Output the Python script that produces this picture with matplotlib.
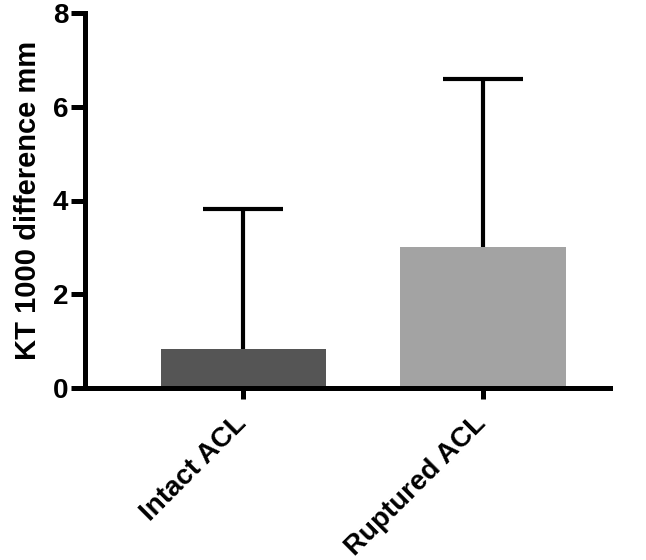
import matplotlib
matplotlib.use("Agg")
import matplotlib.pyplot as plt
import matplotlib.transforms as mtransforms

# Data
groups = ["Intact ACL", "Ruptured ACL"]
means = [0.83, 3.0]
sd_upper = [2.99, 3.6]
bar_colors = ["#555555", "#a3a3a3"]

plt.rcParams["font.family"] = ["Liberation Sans", "DejaVu Sans"]
plt.rcParams["font.weight"] = "bold"

fig = plt.figure(figsize=(6.46, 5.6), dpi=100)
ax = fig.add_axes([85 / 646, 172 / 560, 525 / 646, 375 / 560])

x = list(range(len(groups)))
ax.bar(x, means, width=0.69, color=bar_colors, zorder=2)
eb = ax.errorbar(x, means, yerr=[[0] * len(means), sd_upper], fmt="none",
                 ecolor="black", elinewidth=3, capsize=29, capthick=3, zorder=1)
# only the upper cap is drawn in the original
eb[1][0].set_visible(False)

ax.set_xlim(-0.66, 1.53)
ax.set_ylim(0, 8)
ax.set_yticks([0, 2, 4, 6, 8])
ax.set_xticks(x)
ax.set_xticklabels(groups, rotation=45, ha="right", rotation_mode="anchor")

for side in ["top", "right"]:
    ax.spines[side].set_visible(False)
for side in ["left", "bottom"]:
    ax.spines[side].set_linewidth(3.6)

ax.tick_params(axis="y", length=10, width=3.6, labelsize=20, pad=2)
ax.tick_params(axis="x", length=8, width=3.6, labelsize=20, pad=8)
shift = mtransforms.ScaledTranslation(-7 / 72, 0, fig.dpi_scale_trans)
for lbl in ax.get_xticklabels():
    lbl.set_fontweight("bold")
    lbl.set_transform(lbl.get_transform() + shift)
for lbl in ax.get_yticklabels():
    lbl.set_fontweight("bold")

ax.set_ylabel("KT 1000 difference mm", fontsize=21, fontweight="bold", labelpad=8)

fig.savefig("out.png", dpi=100)
